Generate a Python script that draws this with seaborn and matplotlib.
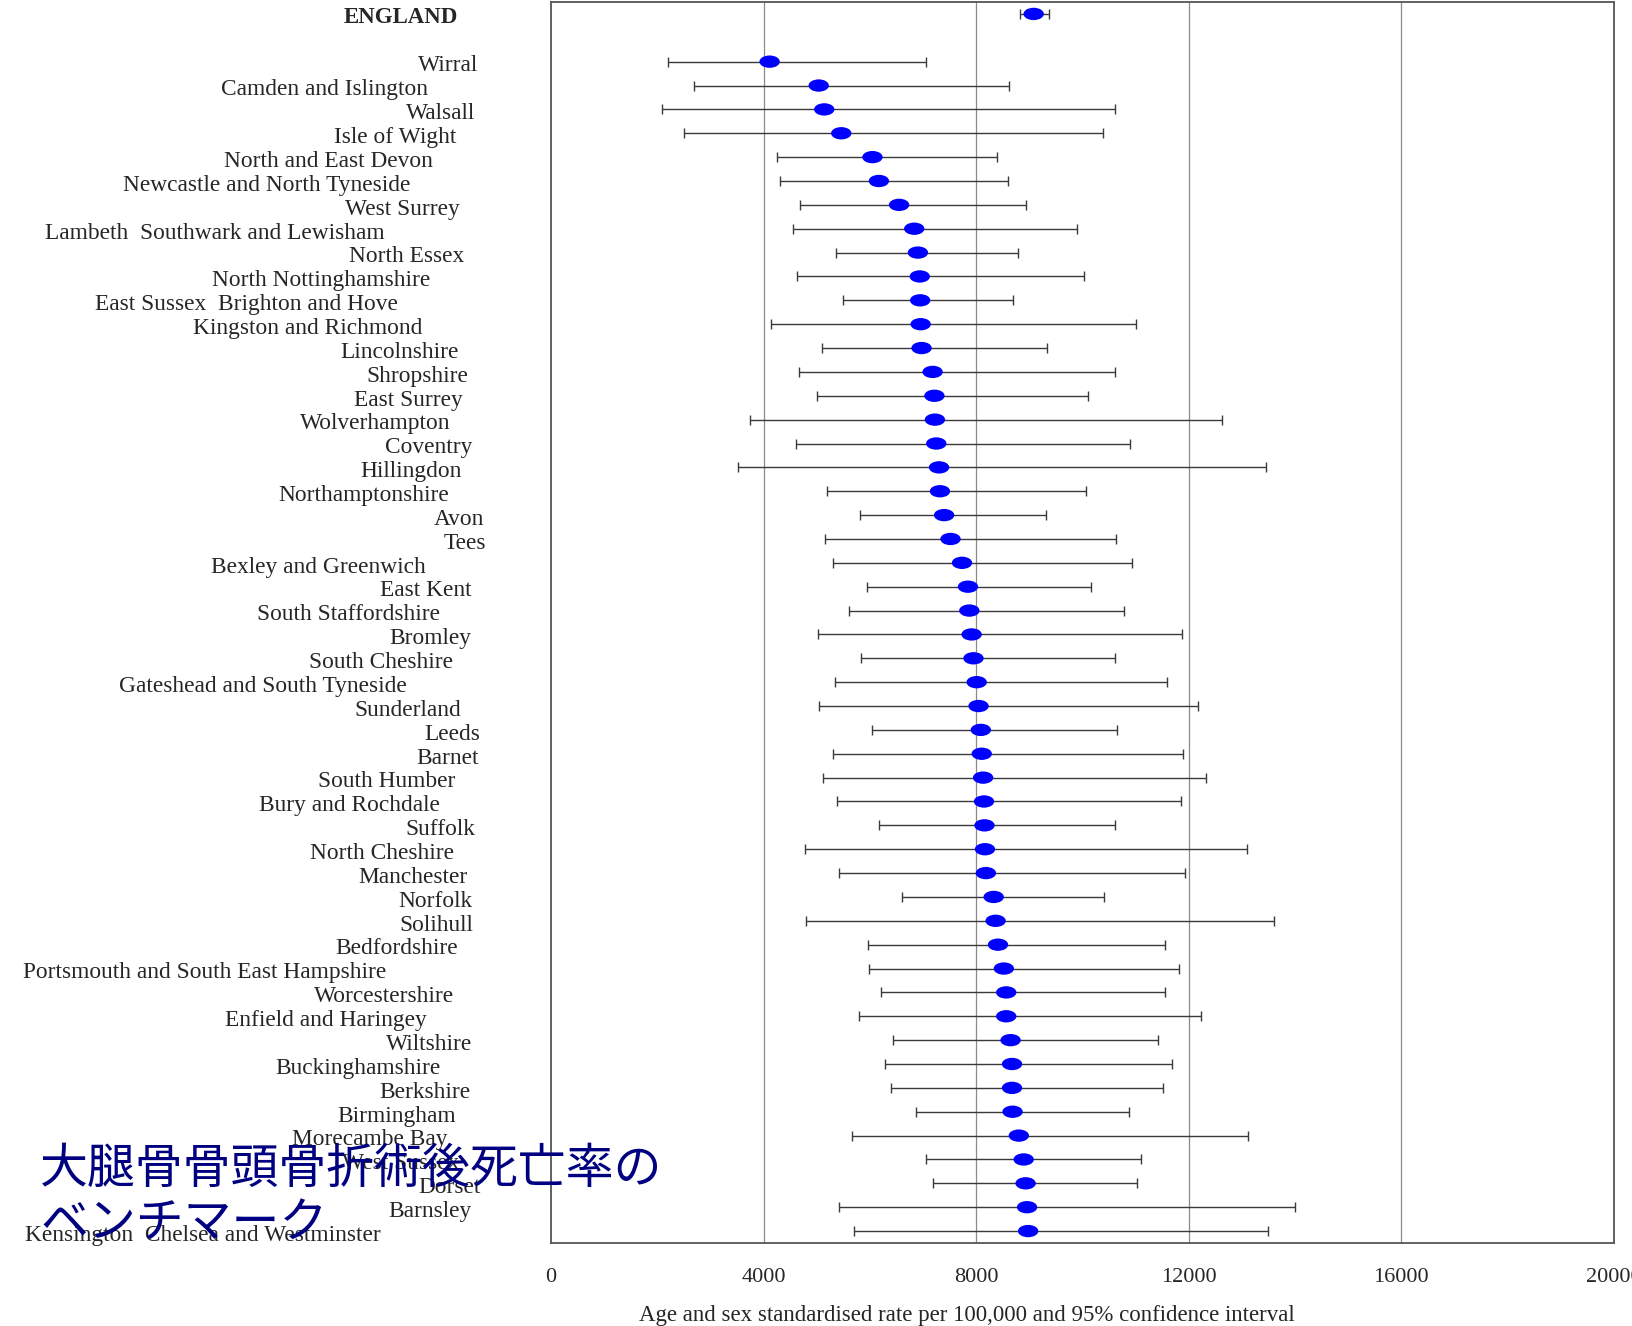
import numpy as np
import pandas as pd
import matplotlib
matplotlib.use("Agg")
import matplotlib.pyplot as plt
import matplotlib.transforms as mtransforms
from matplotlib.path import Path
import seaborn as sns

# national figure
england_rate = 9081
england_lo = 8821
england_hi = 9374

areas = [
    "Wirral", "Camden and Islington", "Walsall", "Isle of Wight",
    "North and East Devon", "Newcastle and North Tyneside", "West Surrey",
    "Lambeth  Southwark and Lewisham", "North Essex", "North Nottinghamshire",
    "East Sussex  Brighton and Hove", "Kingston and Richmond", "Lincolnshire",
    "Shropshire", "East Surrey", "Wolverhampton", "Coventry", "Hillingdon",
    "Northamptonshire", "Avon", "Tees", "Bexley and Greenwich", "East Kent",
    "South Staffordshire", "Bromley", "South Cheshire",
    "Gateshead and South Tyneside", "Sunderland", "Leeds", "Barnet",
    "South Humber", "Bury and Rochdale", "Suffolk", "North Cheshire",
    "Manchester", "Norfolk", "Solihull", "Bedfordshire",
    "Portsmouth and South East Hampshire", "Worcestershire",
    "Enfield and Haringey", "Wiltshire", "Buckinghamshire", "Berkshire",
    "Birmingham", "Morecambe Bay", "West Sussex", "Dorset", "Barnsley",
    "Kensington  Chelsea and Westminster",
]
rate = [
    4113, 5037, 5141, 5461, 6048, 6169, 6549, 6834, 6903, 6938,
    6946, 6955, 6972, 7180, 7214, 7223, 7249, 7301, 7318, 7396,
    7517, 7733, 7845, 7871, 7914, 7949, 8009, 8044, 8087, 8104,
    8130, 8147, 8156, 8165, 8182, 8329, 8365, 8410, 8520, 8565,
    8565, 8647, 8674, 8674, 8684, 8802, 8893, 8930, 8957, 8977,
]
ci_low = [
    2204, 2696, 2083, 2506, 4251, 4312, 4692, 4562, 5366, 4623,
    5495, 4130, 5098, 4657, 5011, 3742, 4605, 3517, 5193, 5806,
    5150, 5305, 5953, 5608, 5029, 5832, 5340, 5046, 6040, 5305,
    5115, 5383, 6178, 4778, 5418, 6599, 4802, 5968, 5977, 6214,
    5786, 6433, 6287, 6406, 6861, 5658, 7062, 7180, 5410, 5704,
]
ci_high = [
    7059, 8623, 10618, 10385, 8390, 8597, 8934, 9901, 8778, 10031,
    8692, 10998, 9340, 10618, 10100, 12631, 10895, 13451, 10065, 9314,
    10635, 10938, 10169, 10782, 11879, 10618, 11594, 12182, 10653, 11897,
    12329, 11862, 10610, 13099, 11922, 10408, 13604, 11554, 11809, 11554,
    12237, 11417, 11691, 11518, 10880, 13112, 11098, 11016, 13994, 13485,
]
x_ticks = [0, 4000, 8000, 12000, 16000, 20000]

# layout only: right edge (figure px) of each row label, as in the original ragged layout
label_right_px = [
    478, 428, 475, 456, 433, 410, 460, 385, 464, 430,
    398, 422, 459, 468, 463, 450, 472, 462, 449, 484,
    486, 426, 472, 440, 471, 453, 407, 461, 480, 479,
    455, 440, 475, 454, 468, 472, 473, 458, 386, 454,
    427, 472, 441, 470, 456, 448, 459, 481, 472, 381,
]
england_right_px = 458

df = pd.DataFrame({"area": areas, "rate": rate, "lo": ci_low, "hi": ci_high})
df["row"] = np.arange(len(df))
eng = pd.DataFrame({"area": ["ENGLAND"], "rate": [england_rate],
                    "lo": [england_lo], "hi": [england_hi], "row": [-2]})
allrows = pd.concat([eng, df], ignore_index=True)

sns.set_theme(style="white")
plt.rcParams["font.family"] = ["Liberation Serif", "DejaVu Serif"]

W, H = 1633, 1326
fig = plt.figure(figsize=(W / 100, H / 100), dpi=100)
ax = fig.add_axes([551 / W, 1 - 1243 / H, (1614 - 551) / W, (1243 - 2) / H])

# confidence intervals
ax.errorbar(allrows["rate"], allrows["row"],
            xerr=[allrows["rate"] - allrows["lo"], allrows["hi"] - allrows["rate"]],
            fmt="none", ecolor="#3a3a3a", elinewidth=1.0, capsize=3.5,
            capthick=1.0, zorder=2)

# elliptical blue markers
circ = Path.unit_circle()
ellipse = Path(circ.vertices * np.array([1.65, 1.0]), circ.codes)
sns.scatterplot(data=allrows, x="rate", y="row", ax=ax, marker=ellipse,
                s=215, color="#0000ff", edgecolor="none", linewidth=0,
                legend=False, zorder=3)

ax.set_xlim(0, 20000)
ax.set_ylim(len(areas) - 0.5, -2.5)
ax.set_xticks(x_ticks)
ax.set_xticklabels([str(t) for t in x_ticks], fontsize=16)
ax.set_yticks([])
ax.tick_params(axis="x", length=0, pad=18)
ax.set_ylabel("")
for t in x_ticks[1:-1]:
    ax.axvline(t, color="#8a8a8a", linewidth=0.9, zorder=1)
for sp in ax.spines.values():
    sp.set_visible(True)
    sp.set_color("#555555")
    sp.set_linewidth(1.3)

ax.set_xlabel("Age and sex standardised rate per 100,000 and 95% confidence interval",
              fontsize=16.5)
ax.xaxis.set_label_coords((967 - 551) / (1614 - 551), -(1316 - 1243) / (1243 - 2))
ax.xaxis.label.set_va("center")

# row labels
trans = mtransforms.blended_transform_factory(fig.transFigure, ax.transData)
ax.text(england_right_px / W, -2 + 0.15, "ENGLAND", transform=trans, ha="right",
        va="center", fontsize=16.5, fontweight="bold", clip_on=False)
for name, r, px in zip(areas, df["row"], label_right_px):
    ax.text(px / W, r + 0.18, name, transform=trans, ha="right", va="center",
            fontsize=16.8, clip_on=False)

# overlay title
fig.text(40 / W, 1 - 1144 / H, "大腿骨骨頭骨折術後死亡率の\nベンチマーク",
         fontsize=34.5, color="#000080", ha="left", va="top", linespacing=1.12,
         family=["Noto Sans CJK JP", "DejaVu Sans"])

fig.savefig("out.png", dpi=100)
